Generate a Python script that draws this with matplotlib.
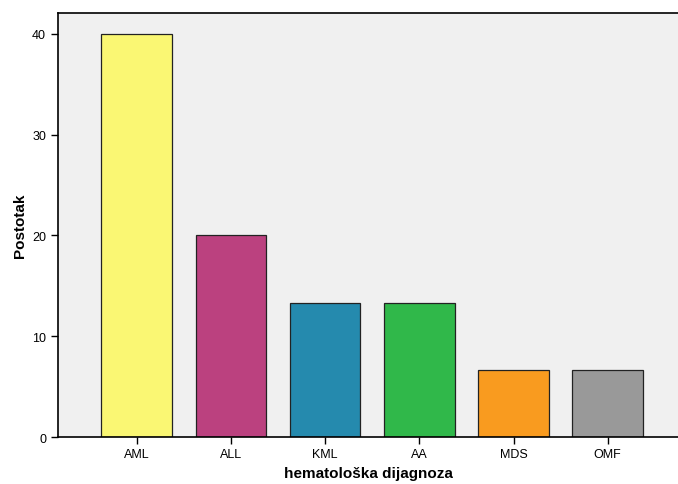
import matplotlib.pyplot as plt

plt.rcParams['font.family'] = ['Liberation Sans', 'DejaVu Sans']

# diagnoses and their share in percent
categories = ['AML', 'ALL', 'KML', 'AA', 'MDS', 'OMF']
percent = [40.0, 20.0, 13.33, 13.33, 6.67, 6.67]
colors = ['#faf773', '#bb417f', '#258aae', '#30b84a', '#f99b1f', '#999999']

fig = plt.figure(figsize=(6.78, 4.85), dpi=100)
ax = fig.add_axes([0.0855, 0.0969, 0.9145, 0.8742])
ax.set_facecolor('#f0f0f0')

x = range(len(categories))
ax.bar(x, percent, width=0.75, color=colors, edgecolor='#222222', linewidth=0.9, zorder=2)

ax.set_xlim(-0.835, 5.746)
ax.set_ylim(0, 42.08)
ax.set_yticks([0, 10, 20, 30, 40])
ax.set_xticks(list(x))
ax.set_xticklabels(categories)
ax.tick_params(axis='both', labelsize=9, length=5, width=1, direction='out', colors='black')
ax.tick_params(axis='x', pad=3)

ax.spines['right'].set_visible(False)
for s in ['left', 'bottom', 'top']:
    ax.spines[s].set_linewidth(1.2)
    ax.spines[s].set_color('black')

ax.set_ylabel('Postotak', fontsize=11, fontweight='bold', labelpad=4)
ax.set_xlabel('hematološka dijagnoza', fontsize=11, fontweight='bold', labelpad=4)

fig.savefig('out.png', dpi=100)
